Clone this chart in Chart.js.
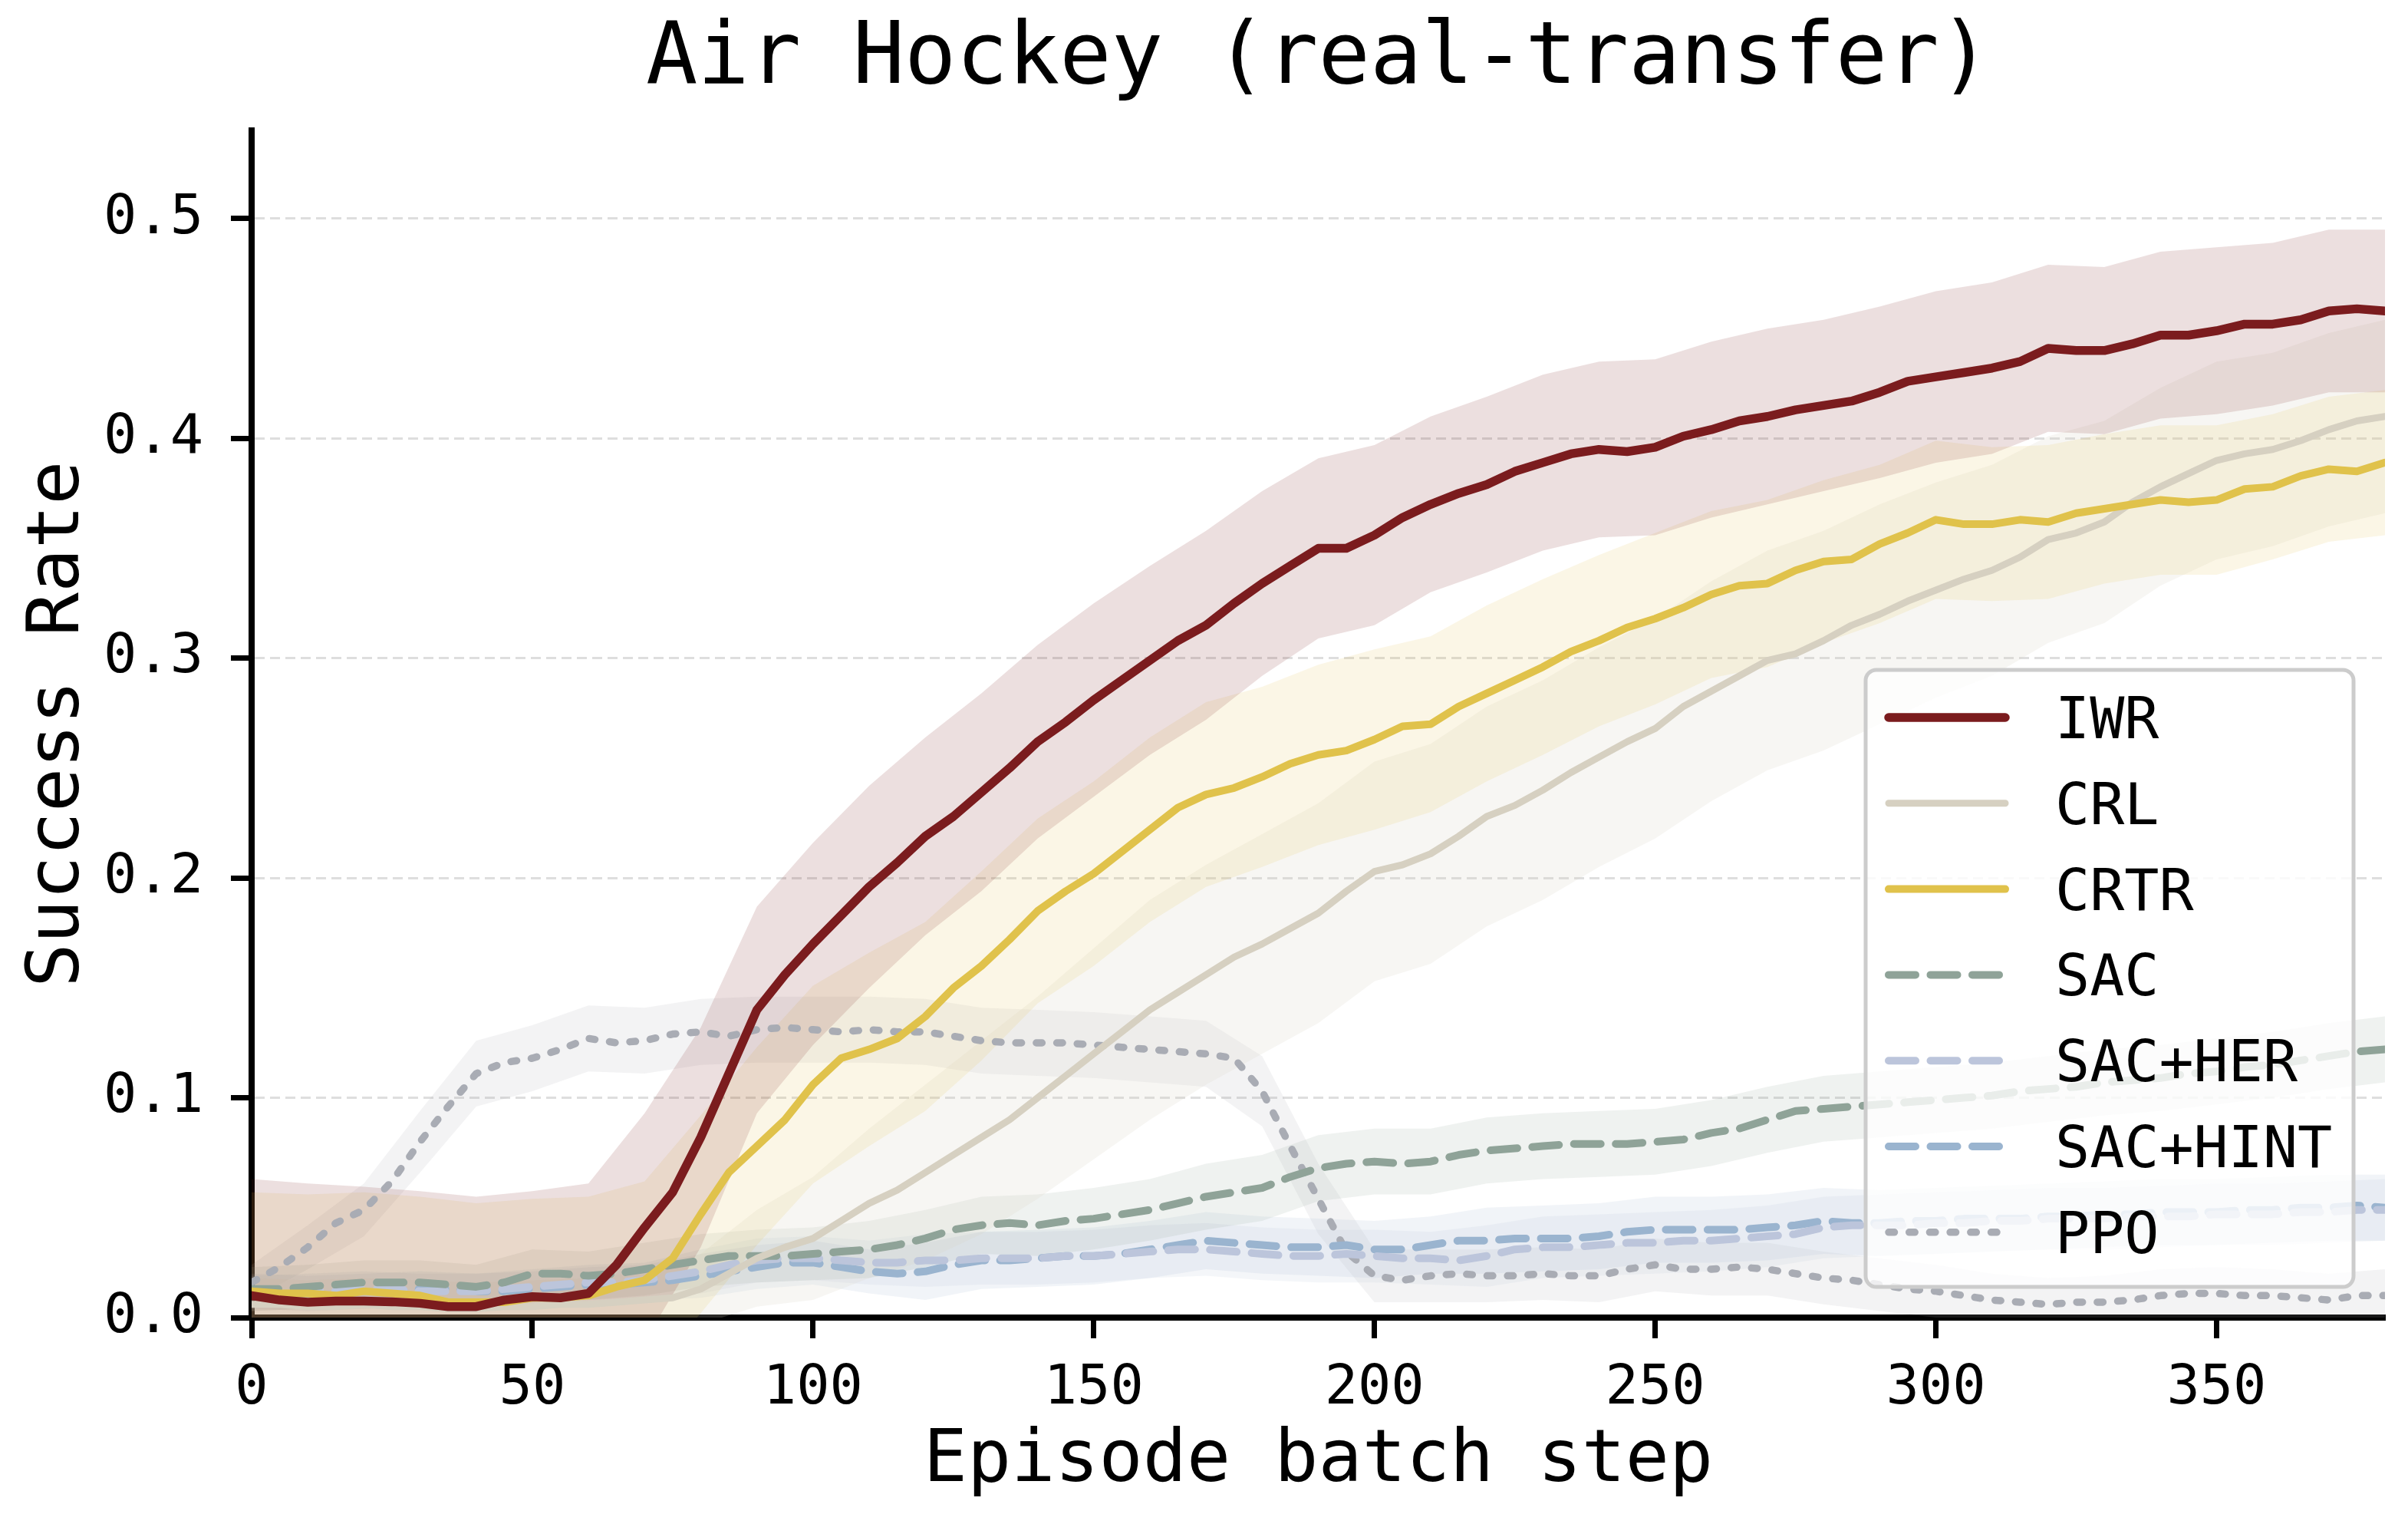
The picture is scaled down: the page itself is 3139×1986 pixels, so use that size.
<!DOCTYPE html>
<html>
<head>
<meta charset="utf-8">
<script src="https://cdn.jsdelivr.net/npm/chart.js@4.4.1/dist/chart.umd.min.js"></script>
<style>
  html, body { margin: 0; padding: 0; background: #fff; }
  canvas { display: block; }
</style>
</head>
<body>
<canvas id="chart" width="3139" height="1986"></canvas>
<script>
// episode batch steps (every 5)
const steps = [0,5,10,15,20,25,30,35,40,45,50,55,60,65,70,75,80,85,90,95,
  100,105,110,115,120,125,130,135,140,145,150,155,160,165,170,175,180,185,190,195,
  200,205,210,215,220,225,230,235,240,245,250,255,260,265,270,275,280,285,290,295,
  300,305,310,315,320,325,330,335,340,345,350,355,360,365,370,375,380];

// mean success rate per method
const iwrMean = [0.010,0.008,0.007,0.0075,0.0075,0.0072,0.0065,0.005,0.005,0.008,
  0.0095,0.009,0.011,0.024,0.041,0.057,0.082,0.111,0.140,0.156,
  0.170,0.183,0.196,0.207,0.219,0.228,0.239,0.250,0.262,0.271,
  0.281,0.290,0.299,0.308,0.315,0.325,0.334,0.342,0.350,0.350,
  0.356,0.364,0.370,0.375,0.379,0.385,0.389,0.393,0.395,0.394,
  0.396,0.401,0.404,0.408,0.410,0.413,0.415,0.417,0.421,0.426,
  0.428,0.430,0.432,0.435,0.441,0.440,0.440,0.443,0.447,0.447,
  0.449,0.452,0.452,0.454,0.458,0.459,0.458];
const crlMean = [0.006,0.006,0.005,0.005,0.006,0.005,0.005,0.004,0.004,0.005,
  0.005,0.006,0.006,0.007,0.008,0.009,0.013,0.020,0.027,0.032,
  0.036,0.044,0.052,0.058,0.066,0.074,0.082,0.090,0.100,0.110,
  0.120,0.130,0.140,0.148,0.156,0.164,0.170,0.177,0.184,0.194,
  0.203,0.206,0.211,0.219,0.228,0.233,0.240,0.248,0.255,0.262,
  0.268,0.278,0.285,0.292,0.299,0.302,0.308,0.315,0.320,0.326,
  0.331,0.336,0.340,0.346,0.354,0.357,0.362,0.371,0.378,0.384,
  0.390,0.393,0.395,0.399,0.404,0.408,0.410];
const crtrMean = [0.012,0.011,0.011,0.010,0.012,0.011,0.010,0.007,0.007,0.007,
  0.009,0.009,0.010,0.014,0.017,0.027,0.047,0.066,0.078,0.090,
  0.106,0.118,0.122,0.127,0.137,0.150,0.160,0.172,0.185,0.194,
  0.202,0.212,0.222,0.232,0.238,0.241,0.246,0.252,0.256,0.258,
  0.263,0.269,0.270,0.278,0.284,0.290,0.296,0.303,0.308,0.314,
  0.318,0.323,0.329,0.333,0.334,0.340,0.344,0.345,0.352,0.357,
  0.363,0.361,0.361,0.363,0.362,0.366,0.368,0.370,0.372,0.371,
  0.372,0.377,0.378,0.383,0.386,0.385,0.389];
const sacMean = [0.013,0.013,0.014,0.015,0.016,0.016,0.016,0.015,0.014,0.016,
  0.020,0.020,0.019,0.020,0.022,0.024,0.026,0.028,0.028,0.028,
  0.029,0.030,0.031,0.033,0.036,0.040,0.042,0.043,0.042,0.044,
  0.045,0.047,0.049,0.052,0.055,0.057,0.059,0.064,0.068,0.070,
  0.071,0.070,0.071,0.074,0.076,0.077,0.078,0.079,0.079,0.079,
  0.080,0.081,0.084,0.086,0.090,0.094,0.095,0.096,0.097,0.098,
  0.099,0.100,0.101,0.103,0.104,0.105,0.107,0.108,0.109,0.111,
  0.112,0.114,0.115,0.117,0.119,0.121,0.122];
const herMean = [0.011,0.011,0.012,0.012,0.013,0.013,0.012,0.012,0.012,0.013,
  0.014,0.015,0.016,0.016,0.017,0.019,0.021,0.024,0.026,0.027,
  0.027,0.026,0.025,0.025,0.026,0.026,0.027,0.027,0.027,0.028,
  0.028,0.029,0.030,0.031,0.031,0.030,0.029,0.028,0.028,0.029,
  0.028,0.027,0.027,0.026,0.028,0.031,0.032,0.032,0.033,0.034,
  0.034,0.035,0.035,0.036,0.037,0.038,0.041,0.042,0.042,0.042,
  0.043,0.043,0.044,0.044,0.045,0.045,0.045,0.046,0.046,0.046,
  0.047,0.047,0.047,0.048,0.048,0.049,0.049];
const hintMean = [0.012,0.011,0.011,0.011,0.012,0.012,0.013,0.013,0.012,0.012,
  0.013,0.014,0.015,0.015,0.016,0.017,0.019,0.021,0.023,0.025,
  0.025,0.023,0.021,0.020,0.021,0.024,0.026,0.026,0.027,0.028,
  0.028,0.029,0.031,0.033,0.035,0.034,0.033,0.032,0.032,0.033,
  0.031,0.031,0.033,0.035,0.035,0.036,0.036,0.036,0.037,0.039,
  0.040,0.040,0.040,0.040,0.041,0.042,0.044,0.043,0.043,0.044,
  0.044,0.045,0.045,0.045,0.046,0.046,0.047,0.047,0.048,0.048,
  0.048,0.049,0.049,0.050,0.050,0.051,0.050];
const ppoMean = [0.016,0.023,0.032,0.043,0.049,0.062,0.080,0.096,0.111,0.116,
  0.118,0.122,0.127,0.125,0.126,0.129,0.130,0.128,0.131,0.132,
  0.131,0.130,0.131,0.130,0.130,0.128,0.126,0.125,0.125,0.125,
  0.124,0.123,0.122,0.121,0.120,0.118,0.103,0.078,0.054,0.030,
  0.019,0.017,0.019,0.020,0.019,0.019,0.020,0.019,0.019,0.022,
  0.024,0.022,0.022,0.023,0.022,0.020,0.018,0.017,0.015,0.013,
  0.012,0.010,0.008,0.007,0.006,0.007,0.007,0.008,0.010,0.011,
  0.011,0.010,0.010,0.009,0.008,0.010,0.010];

// std band half-widths, every 10 steps (0..380)
const iwrStd = [0.053,0.054,0.052,0.051,0.050,0.048,0.050,0.052,0.050,0.047,
  0.046,0.046,0.045,0.045,0.044,0.044,0.043,0.043,0.042,0.041,
  0.041,0.040,0.040,0.040,0.040,0.040,0.040,0.040,0.039,0.039,
  0.039,0.039,0.038,0.038,0.038,0.038,0.037,0.037,0.037];
const crlStd = [0.012,0.012,0.012,0.012,0.012,0.012,0.012,0.013,0.016,0.022,
  0.028,0.034,0.040,0.044,0.046,0.048,0.050,0.050,0.050,0.050,
  0.050,0.050,0.050,0.050,0.050,0.050,0.050,0.050,0.050,0.050,
  0.049,0.048,0.047,0.046,0.045,0.045,0.044,0.044,0.044];
const crtrStd = [0.045,0.045,0.045,0.045,0.045,0.045,0.045,0.045,0.045,0.045,
  0.045,0.044,0.043,0.043,0.042,0.042,0.042,0.042,0.041,0.041,
  0.041,0.040,0.040,0.040,0.039,0.039,0.038,0.038,0.037,0.036,
  0.036,0.035,0.035,0.034,0.034,0.034,0.033,0.033,0.033];
const sacStd = [0.010,0.010,0.010,0.010,0.010,0.011,0.011,0.012,0.012,0.012,
  0.012,0.013,0.013,0.013,0.014,0.014,0.014,0.015,0.015,0.015,
  0.015,0.015,0.015,0.015,0.015,0.015,0.015,0.015,0.015,0.015,
  0.015,0.015,0.015,0.015,0.015,0.015,0.015,0.015,0.015];
const herStd = [0.008,0.008,0.008,0.008,0.008,0.008,0.008,0.008,0.010,0.010,
  0.010,0.010,0.012,0.012,0.012,0.012,0.012,0.012,0.012,0.012,
  0.012,0.012,0.014,0.014,0.014,0.014,0.014,0.014,0.014,0.014,
  0.014,0.014,0.014,0.014,0.014,0.014,0.014,0.014,0.014];
const hintStd = [0.008,0.008,0.008,0.008,0.008,0.008,0.008,0.008,0.010,0.010,
  0.010,0.010,0.013,0.013,0.013,0.013,0.013,0.013,0.013,0.013,
  0.013,0.013,0.015,0.015,0.015,0.015,0.015,0.015,0.015,0.015,
  0.015,0.015,0.015,0.015,0.015,0.015,0.015,0.015,0.015];
const ppoStd = [0.008,0.010,0.012,0.014,0.015,0.015,0.015,0.015,0.015,0.015,
  0.015,0.015,0.015,0.015,0.015,0.015,0.015,0.015,0.016,0.016,
  0.012,0.012,0.012,0.012,0.012,0.012,0.012,0.012,0.012,0.012,
  0.012,0.012,0.012,0.012,0.012,0.012,0.012,0.012,0.012];

const xTicks = [0, 50, 100, 150, 200, 250, 300, 350];
const yTicks = [0.0, 0.1, 0.2, 0.3, 0.4, 0.5];

const FONT = "'DejaVu Sans Mono', monospace";

// top of the list is drawn on top
const series = [
  { label: 'IWR',      mean: iwrMean,  std: iwrStd,  color: '#7b1c1e', width: 11.5, dash: [],       band: 'rgba(123,28,30,0.14)' },
  { label: 'CRTR',     mean: crtrMean, std: crtrStd, color: '#e0c24b', width: 10,   dash: [],       band: 'rgba(224,194,75,0.14)' },
  { label: 'CRL',      mean: crlMean,  std: crlStd,  color: '#d6d0c1', width: 9,    dash: [],       band: 'rgba(214,208,193,0.2)' },
  { label: 'SAC',      mean: sacMean,  std: sacStd,  color: '#8fa398', width: 10,   dash: [35, 19.5], band: 'rgba(143,163,152,0.14)' },
  { label: 'SAC+HER',  mean: herMean,  std: herStd,  color: '#bcc5db', width: 10,   dash: [35, 19.5], band: 'rgba(188,197,219,0.16)' },
  { label: 'SAC+HINT', mean: hintMean, std: hintStd, color: '#9ab4cf', width: 10,   dash: [35, 19.5], band: 'rgba(154,180,207,0.14)' },
  { label: 'PPO',      mean: ppoMean,  std: ppoStd,  color: '#a9acb4', width: 9.5,  dash: [7.5, 19.2], band: 'rgba(169,172,180,0.14)' }
];
const legendOrder = ['IWR', 'CRL', 'CRTR', 'SAC', 'SAC+HER', 'SAC+HINT', 'PPO'];

const datasets = [];
series.forEach(s => {
  datasets.push({
    label: s.label,
    data: steps.map((x, i) => ({ x: x, y: s.mean[i] })),
    borderColor: s.color,
    borderWidth: s.width,
    borderDash: s.dash,
    borderCapStyle: 'round',
    borderJoinStyle: 'round',
    pointRadius: 0,
    tension: 0,
    fill: false,
    order: 0
  });
});
series.forEach(s => {
  const lo = s.std.map((sd, i) => ({ x: steps[i * 2], y: s.mean[i * 2] - sd }));
  const hi = s.std.map((sd, i) => ({ x: steps[i * 2], y: s.mean[i * 2] + sd }));
  datasets.push({ label: s.label + '_lo', data: lo, borderWidth: 0, pointRadius: 0, fill: false, order: 1 });
  datasets.push({ label: s.label + '_hi', data: hi, borderWidth: 0, pointRadius: 0, fill: '-1', backgroundColor: s.band, order: 1 });
});

const boxLegend = {
  id: 'boxLegend',
  afterDraw(chart) {
    const ctx = chart.ctx;
    const bx = 2432, by = 873, bw = 636, bh = 804, r = 14;
    ctx.save();
    ctx.beginPath();
    ctx.roundRect(bx, by, bw, bh, r);
    ctx.fillStyle = 'rgba(255,255,255,0.8)';
    ctx.fill();
    ctx.lineWidth = 5;
    ctx.strokeStyle = '#cccccc';
    ctx.stroke();
    legendOrder.forEach((name, i) => {
      const s = series.find(q => q.label === name);
      const y = 935 + i * 111.8;
      ctx.beginPath();
      ctx.setLineDash(s.dash);
      ctx.lineCap = 'round';
      ctx.lineWidth = s.width;
      ctx.strokeStyle = s.color;
      ctx.moveTo(2462, y);
      ctx.lineTo(2614, y);
      ctx.stroke();
      ctx.setLineDash([]);
      ctx.fillStyle = '#000';
      ctx.font = '75px ' + FONT;
      ctx.textBaseline = 'alphabetic';
      ctx.textAlign = 'left';
      ctx.fillText(name, 2679, y + 27);
    });
    ctx.restore();
  }
};

Chart.defaults.font.family = FONT;
Chart.defaults.color = '#000';

new Chart(document.getElementById('chart'), {
  type: 'line',
  data: { datasets: datasets },
  options: {
    responsive: false,
    animation: false,
    devicePixelRatio: 1,
    layout: { padding: { left: 0, right: 30, top: 0, bottom: 0 } },
    plugins: {
      legend: { display: false },
      tooltip: { enabled: false },
      title: {
        display: true,
        fullSize: false,
        text: 'Air Hockey (real-transfer)',
        color: '#000',
        font: { family: FONT, size: 112, weight: 'normal' },
        padding: { top: 12, bottom: 24 }
      }
    },
    scales: {
      x: {
        type: 'linear',
        min: 0,
        max: 380,
        afterFit(scale) { scale.height = 269; },
        afterBuildTicks(scale) { scale.ticks = xTicks.map(v => ({ value: v })); },
        ticks: { font: { size: 72 }, color: '#000', padding: 23, callback: v => String(v) },
        grid: { drawOnChartArea: false, drawTicks: true, tickLength: 27, tickColor: '#000', tickWidth: 7 },
        border: { display: true, color: '#000', width: 8 },
        title: {
          display: true,
          text: 'Episode batch step',
          color: '#000',
          font: { size: 95 },
          padding: { top: 0, bottom: 24 }
        }
      },
      y: {
        min: 0,
        max: 0.54,
        afterFit(scale) { scale.width = 328; },
        afterBuildTicks(scale) { scale.ticks = yTicks.map(v => ({ value: v })); },
        ticks: { font: { size: 72 }, color: '#000', padding: 36, callback: v => v.toFixed(1) },
        grid: {
          drawOnChartArea: true,
          color: c => (c.tick && c.tick.value > 0.001) ? '#dedede' : 'rgba(0,0,0,0)',
          lineWidth: 3,
          drawTicks: true,
          tickLength: 27,
          tickColor: '#000',
          tickWidth: 7
        },
        border: { display: true, color: '#000', width: 8, dash: [13, 7] },
        title: {
          display: true,
          text: 'Success Rate',
          color: '#000',
          font: { size: 95 },
          padding: { top: 20, bottom: 0 }
        }
      }
    }
  },
  plugins: [boxLegend]
});
</script>
</body>
</html>
